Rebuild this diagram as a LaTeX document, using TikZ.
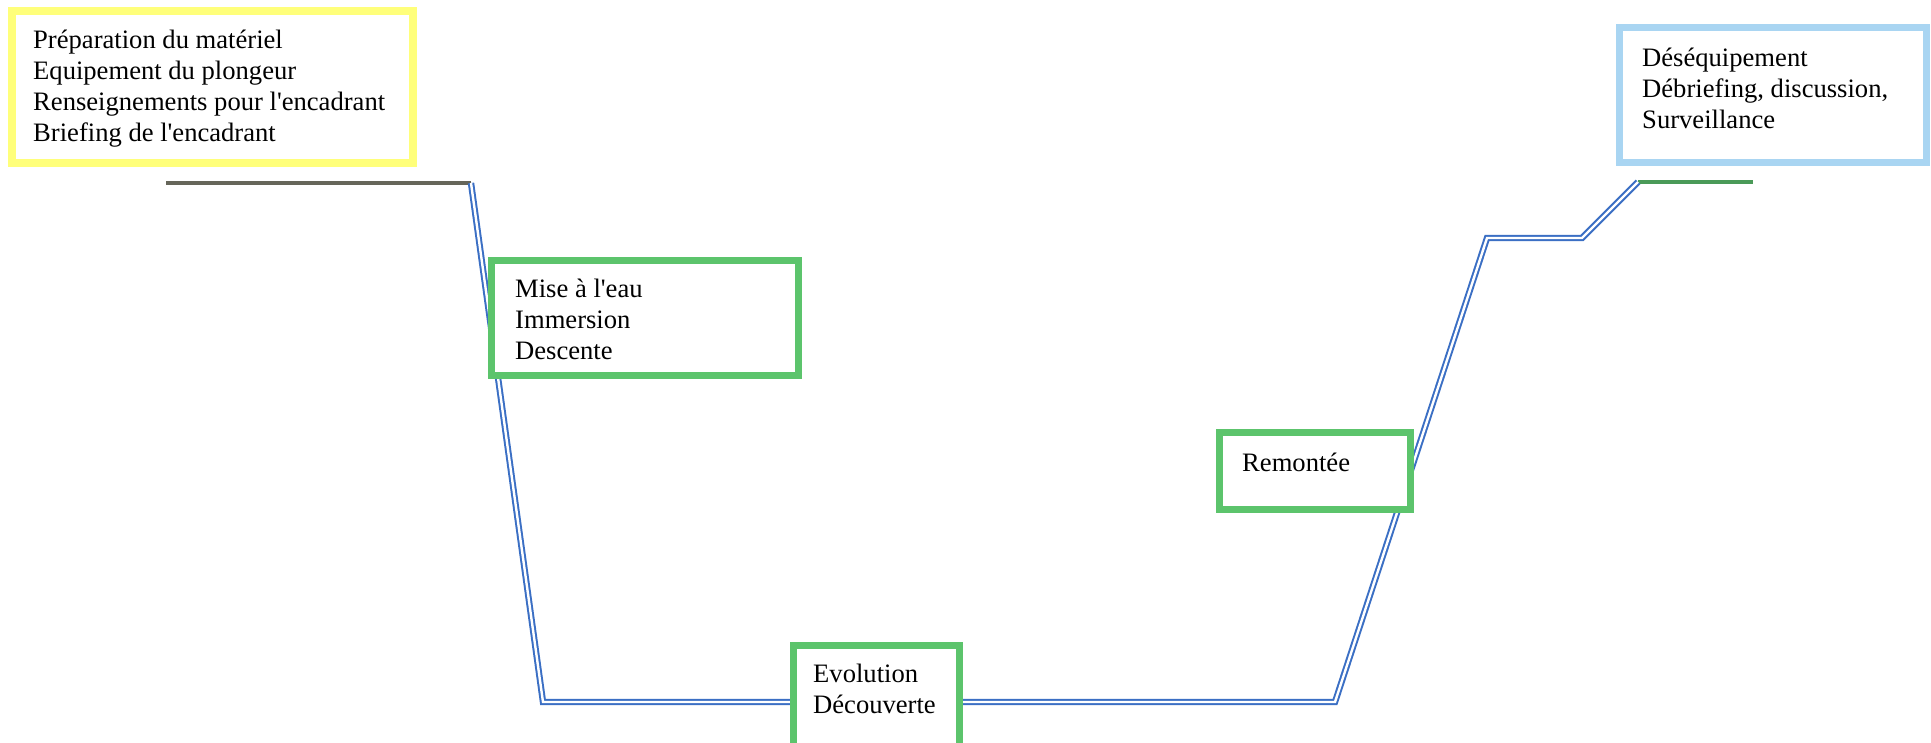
\documentclass[tikz,border=0pt]{standalone}
\usepackage{fontspec}
\setmainfont{Liberation Serif}
\definecolor{boxyellow}{HTML}{FFFF7A}
\definecolor{boxgreen}{HTML}{5CC46C}
\definecolor{boxblue}{HTML}{A9D5F2}
\definecolor{pathblue}{HTML}{3B6FC4}
\definecolor{surfgray}{HTML}{66665A}
\definecolor{surfgreen}{HTML}{4A9A58}
\newcommand{\apos}{\textquotesingle}
\tikzset{
  phasebox/.style={draw, fill=white, line width=7pt, rectangle, inner sep=0pt},
  phasetext/.style={anchor=base west, inner sep=0pt, align=left, font=\fontsize{26.6}{30.8}\selectfont},
  divepath/.style={draw=pathblue, double=white, line width=2pt, double distance=2.4pt, line join=miter},
  surface/.style={line width=4.5pt}
}
\begin{document}
\begin{tikzpicture}[x=1pt,y=-1pt]
\useasboundingbox (0,0) rectangle (1931,742);
\clip (0,0) rectangle (1931,742);
% path coordinates
\coordinate (g1) at (166,183);
\coordinate (g2) at (471,183);
\coordinate (b1) at (543,702);
\coordinate (b2) at (1335,702);
\coordinate (b3) at (1487,238);
\coordinate (b4) at (1582,238);
\coordinate (b5) at (1638,182);
\coordinate (g3) at (1753,182);
\draw[surface, surfgray] (g1) -- (g2);
\draw[surface, surfgreen] (b5) -- (g3);
\draw[divepath] (g2) -- (b1) -- (b2) -- (b3) -- (b4) -- (b5);
% boxes
\node[phasebox, draw=boxyellow, line width=8pt, minimum width=401pt, minimum height=152pt] (prep) at (212.5,87) {};
\node[phasebox, draw=boxgreen, minimum width=307pt, minimum height=115pt] (mise) at (645,318) {};
\node[phasebox, draw=boxgreen, minimum width=166pt, minimum height=124.5pt] (evol) at (876.5,707.75) {};
\node[phasebox, draw=boxgreen, minimum width=191pt, minimum height=77pt] (remo) at (1315,471) {};
\node[phasebox, draw=boxblue, minimum width=307pt, minimum height=135pt] (deseq) at (1773,95) {};
% texts (base anchor = baseline of the last line)
\node[phasetext] (preptext) at (33,141) {Préparation du matériel\\Equipement du plongeur\\Renseignements pour l\apos encadrant\\Briefing de l\apos encadrant};
\node[phasetext] (misetext) at (515,359) {Mise à l\apos eau\\Immersion\\Descente};
\node[phasetext] (evoltext) at (813,713) {Evolution\\Découverte};
\node[phasetext] (remotext) at (1242,471) {Remontée};
\node[phasetext] (deseqtext) at (1642,128) {Déséquipement\\Débriefing, discussion,\\Surveillance};
\end{tikzpicture}
\end{document}
